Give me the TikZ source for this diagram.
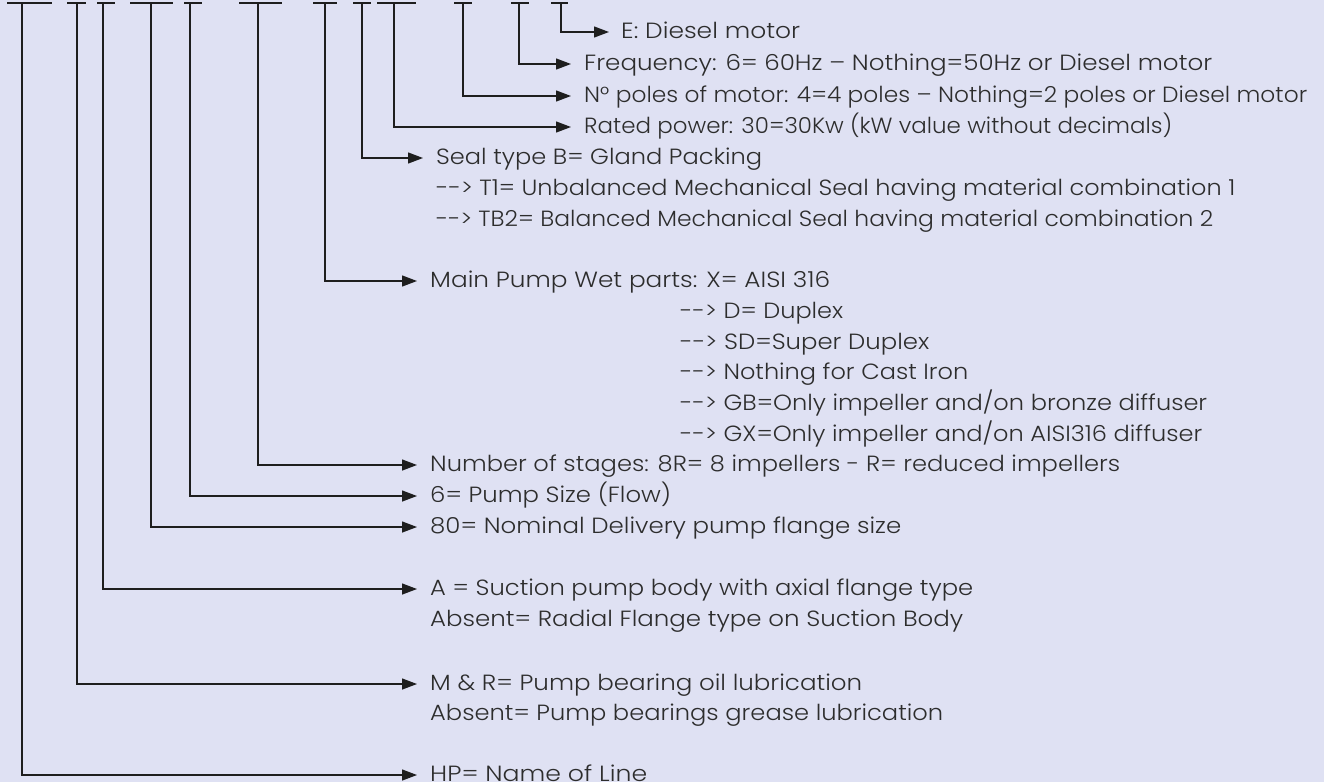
\documentclass[tikz,border=0pt]{standalone}
\usepackage{fontspec}
\setmainfont{Poppins}[UprightFont={* Light}]
\usetikzlibrary{arrows.meta}
\definecolor{bg}{RGB}{223,225,243}
\definecolor{ink}{RGB}{30,30,30}
\definecolor{txt}{RGB}{45,45,45}
\tikzset{
 conn/.style={draw=ink, line width=1.3pt, shorten >=13pt, -{Triangle[length=15pt,width=11pt]}},
 bar/.style={draw=ink, line width=1.3pt},
 lbl/.style={anchor=west, inner xsep=0pt, inner ysep=0pt, text height=16pt, text depth=4pt, font=\fontsize{22pt}{26pt}\selectfont, text=txt},
}
\newcommand{\mylbl}[5]{\node[lbl] (#1) at (#2,#3) {\resizebox{#4pt}{\height}{#5}};}
\begin{document}
\begin{tikzpicture}[x=1pt,y=-1pt]
\fill[bg] (0,0) rectangle (1324,782);
\useasboundingbox (0,0) rectangle (1324,782);
% top bars
\draw[bar] (7,3) -- (52,3);
\draw[bar] (67,3) -- (86,3);
\draw[bar] (97,3) -- (115,3);
\draw[bar] (130,3) -- (173,3);
\draw[bar] (184,3) -- (202,3);
\draw[bar] (239,3) -- (282,3);
\draw[bar] (313,3) -- (337,3);
\draw[bar] (353,3) -- (371,3);
\draw[bar] (377,3) -- (416,3);
\draw[bar] (454,3) -- (472,3);
\draw[bar] (511,3) -- (529,3);
\draw[bar] (551,3) -- (568,3);
\coordinate (t1) at (22,3);
\coordinate (t2) at (77,3);
\coordinate (t3) at (103,3);
\coordinate (t4) at (151,3);
\coordinate (t5) at (190,3);
\coordinate (t6) at (258,3);
\coordinate (t7) at (325,3);
\coordinate (t8) at (362,3);
\coordinate (t9) at (394,3);
\coordinate (t10) at (463,3);
\coordinate (t11) at (519,3);
\coordinate (t12) at (561,3);
% labels
\mylbl{e}{621}{32}{179}{E: Diesel motor}
\mylbl{freq}{584}{64}{628}{Frequency: 6= 60Hz – Nothing=50Hz or Diesel motor}
\mylbl{poles}{584}{96}{723}{N° poles of motor: 4=4 poles – Nothing=2 poles or Diesel motor}
\mylbl{rated}{584}{127}{588}{Rated power: 30=30Kw (kW value without decimals)}
\mylbl{seal}{436}{158}{326}{Seal type B= Gland Packing}
\mylbl{sealb}{436}{189}{799}{-{}-> T1= Unbalanced Mechanical Seal having material combination 1}
\mylbl{sealc}{436}{220}{777}{-{}-> TB2= Balanced Mechanical Seal having material combination 2}
\mylbl{wet}{430}{281}{400}{Main Pump Wet parts: X= AISI 316}
\mylbl{wetb}{680}{312}{163}{-{}-> D= Duplex}
\mylbl{wetc}{680}{343}{249}{-{}-> SD=Super Duplex}
\mylbl{wetd}{680}{373}{288}{-{}-> Nothing for Cast Iron}
\mylbl{wete}{680}{404}{527}{-{}-> GB=Only impeller and/on bronze diffuser}
\mylbl{wetf}{680}{435}{522}{-{}-> GX=Only impeller and/on AISI316 diffuser}
\mylbl{stages}{430}{465}{690}{Number of stages: 8R= 8 impellers - R= reduced impellers}
\mylbl{size}{430}{496}{241}{6= Pump Size (Flow)}
\mylbl{flange}{430}{527}{471}{80= Nominal Delivery pump flange size}
\mylbl{suct}{430}{589}{543}{A = Suction pump body with axial flange type}
\mylbl{suctb}{430}{620}{533}{Absent= Radial Flange type on Suction Body}
\mylbl{lub}{430}{684}{432}{M \& R= Pump bearing oil lubrication}
\mylbl{lubb}{430}{714}{513}{Absent= Pump bearings grease lubrication}
\mylbl{hp}{430}{775}{217}{HP= Name of Line}
% connectors
\draw[conn, shorten >=12pt] (t12) |- (e.west);
\draw[conn] (t11) |- (freq.west);
\draw[conn] (t10) |- (poles.west);
\draw[conn] (t9) |- (rated.west);
\draw[conn] (t8) |- (seal.west);
\draw[conn] (t7) |- (wet.west);
\draw[conn] (t6) |- (stages.west);
\draw[conn] (t5) |- (size.west);
\draw[conn] (t4) |- (flange.west);
\draw[conn] (t3) |- (suct.west);
\draw[conn] (t2) |- (lub.west);
\draw[conn] (t1) |- (hp.west);
\end{tikzpicture}
\end{document}
